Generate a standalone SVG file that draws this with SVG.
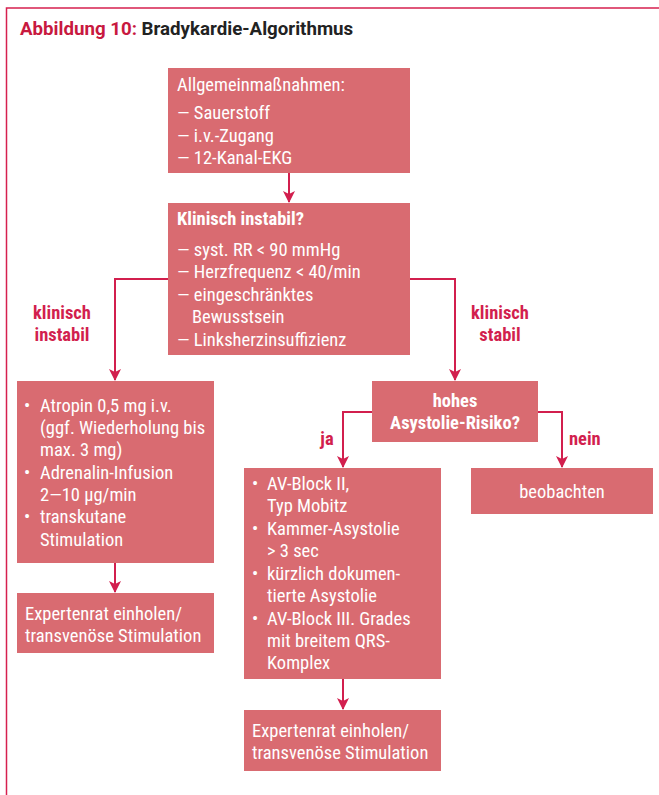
<svg xmlns="http://www.w3.org/2000/svg" width="659" height="795" viewBox="0 0 659 795">
<defs>
<marker id="ah" markerWidth="12" markerHeight="12" refX="11" refY="6" orient="auto" markerUnits="userSpaceOnUse">
<path d="M0,0 L12,6 L0,12 L3,6 Z" fill="#d21f4e"/>
</marker>
<style>
.box{fill:#d96b71}
.t{font-family:"Roboto Condensed","Liberation Sans Narrow",Roboto,sans-serif;font-size:18.5px;fill:#ffffff}
.b{font-weight:bold}
.lbl{font-family:"Roboto Condensed","Liberation Sans Narrow",Roboto,sans-serif;font-size:18.5px;font-weight:bold;fill:#d21f4e}
.c{fill:none;stroke:#d21f4e;stroke-width:2}
</style>
</defs>
<rect width="659" height="795" fill="#ffffff"/>
<path d="M6.5,795 V8 H659" fill="none" stroke="#d6204f" stroke-width="1.5"/>
<text x="20" y="35" font-family="Roboto,sans-serif" font-size="18.7" font-weight="bold"><tspan fill="#c8193f">Abbildung 10:</tspan><tspan fill="#222222"> Bradykardie-Algorithmus</tspan></text>

<g id="connectors">
<path class="c" d="M289,173 V202" marker-end="url(#ah)"/>
<path class="c" d="M168,279 H115 V380" marker-end="url(#ah)"/>
<path class="c" d="M410,279 H455 V380" marker-end="url(#ah)"/>
<path class="c" d="M372,412 H343 V467" marker-end="url(#ah)"/>
<path class="c" d="M538,412 H562 V467" marker-end="url(#ah)"/>
<path class="c" d="M115,563 V592" marker-end="url(#ah)"/>
<path class="c" d="M343,679 V709" marker-end="url(#ah)"/>
<text class="lbl" x="62" y="319" text-anchor="middle">klinisch</text>
<text class="lbl" x="62" y="341" text-anchor="middle">instabil</text>
<text class="lbl" x="500" y="319" text-anchor="middle">klinisch</text>
<text class="lbl" x="500" y="341" text-anchor="middle">stabil</text>
<text class="lbl" x="327" y="445" text-anchor="middle">ja</text>
<text class="lbl" x="569" y="445">nein</text>
</g>

<g id="n1">
<rect class="box" x="168" y="68" width="242" height="105"/>
<text class="t" x="177" y="91">Allgemeinmaßnahmen:</text>
<text class="t" x="177" y="119">— Sauerstoff</text>
<text class="t" x="177" y="142">— i.v.-Zugang</text>
<text class="t" x="177" y="164">— 12-Kanal-EKG</text>
</g>

<g id="n2">
<rect class="box" x="168" y="203" width="242" height="152"/>
<text class="t b" x="177" y="225">Klinisch instabil?</text>
<text class="t" x="177" y="256">— syst. RR &lt; 90 mmHg</text>
<text class="t" x="177" y="278">— Herzfrequenz &lt; 40/min</text>
<text class="t" x="177" y="301">— eingeschränktes</text>
<text class="t" x="192" y="323">Bewusstsein</text>
<text class="t" x="177" y="346">— Linksherzinsuffizienz</text>
</g>

<g id="n3">
<rect class="box" x="17" y="381" width="197" height="182"/>
<text class="t" x="24" y="412">•</text><text class="t" x="40" y="412">Atropin 0,5 mg i.v.</text>
<text class="t" x="40" y="434">(ggf. Wiederholung bis</text>
<text class="t" x="40" y="456">max. 3 mg)</text>
<text class="t" x="24" y="479">•</text><text class="t" x="40" y="479">Adrenalin-Infusion</text>
<text class="t" x="40" y="501">2—10 µg/min</text>
<text class="t" x="24" y="523">•</text><text class="t" x="40" y="523">transkutane</text>
<text class="t" x="40" y="546">Stimulation</text>
</g>

<g id="n4">
<rect class="box" x="17" y="593" width="197" height="60"/>
<text class="t" x="25" y="620">Expertenrat einholen/</text>
<text class="t" x="25" y="642">transvenöse Stimulation</text>
</g>

<g id="n5">
<rect class="box" x="372" y="381" width="166" height="61"/>
<text class="t b" x="455" y="407" text-anchor="middle">hohes</text>
<text class="t b" x="455" y="429" text-anchor="middle">Asystolie-Risiko?</text>
</g>

<g id="n6">
<rect class="box" x="244" y="468" width="197" height="211"/>
<text class="t" x="252" y="490">•</text><text class="t" x="267" y="490">AV-Block II,</text>
<text class="t" x="267" y="512">Typ Mobitz</text>
<text class="t" x="252" y="535">•</text><text class="t" x="267" y="535">Kammer-Asystolie</text>
<text class="t" x="267" y="557">&gt; 3 sec</text>
<text class="t" x="252" y="580">•</text><text class="t" x="267" y="580">kürzlich dokumen-</text>
<text class="t" x="267" y="602">tierte Asystolie</text>
<text class="t" x="252" y="625">•</text><text class="t" x="267" y="625">AV-Block III. Grades</text>
<text class="t" x="267" y="647">mit breitem QRS-</text>
<text class="t" x="267" y="669">Komplex</text>
</g>

<g id="n7">
<rect class="box" x="471" y="468" width="182" height="46"/>
<text class="t" x="562" y="498" text-anchor="middle">beobachten</text>
</g>

<g id="n8">
<rect class="box" x="244" y="710" width="197" height="61"/>
<text class="t" x="252" y="737">Expertenrat einholen/</text>
<text class="t" x="252" y="759">transvenöse Stimulation</text>
</g>
</svg>
